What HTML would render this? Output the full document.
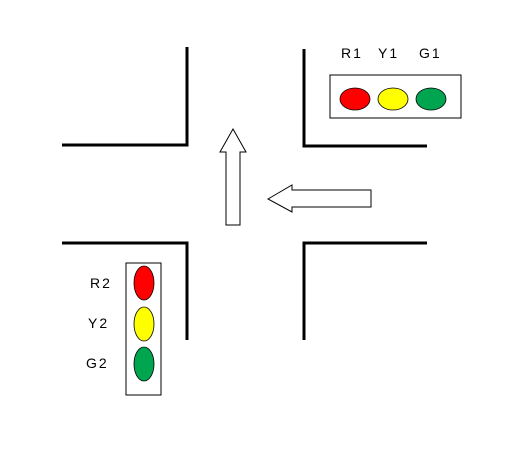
<!DOCTYPE html>
<html><head><meta charset="utf-8"><style>
html,body{margin:0;padding:0;background:#fff;width:515px;height:450px;overflow:hidden}
text{font-family:"Liberation Sans",Arial,sans-serif;font-size:14px;fill:#000;letter-spacing:2px}
</style></head><body>
<svg width="515" height="450" viewBox="0 0 515 450">
<g stroke="#000" stroke-width="3" fill="none">
<polyline points="62,145 187,145 187,47"/>
<polyline points="304,49 304,146 427,146"/>
<polyline points="62,243 187,243 187,340"/>
<polyline points="427,243 304,243 304,340"/>
</g>
<polygon points="233,129 246,152 240,152 240,225 226,225 226,152 220,152" fill="#fff" stroke="#000" stroke-width="1"/>
<polygon points="268,199 292,185 292,190 371,190 371,207 292,207 292,212" fill="#fff" stroke="#000" stroke-width="1"/>
<g>
<rect x="330" y="75" width="131" height="43" fill="#fff" stroke="#000" stroke-width="1"/>
<ellipse cx="355" cy="99" rx="15" ry="11" fill="#ff0000" stroke="#000" stroke-width="0.8"/>
<ellipse cx="393" cy="99" rx="15" ry="11" fill="#ffff00" stroke="#000" stroke-width="0.8"/>
<ellipse cx="431" cy="99" rx="15" ry="11" fill="#00a550" stroke="#000" stroke-width="0.8"/>
<text x="341" y="58">R1</text>
<text x="378" y="58">Y1</text>
<text x="419" y="58">G1</text>
</g>
<g>
<rect x="126" y="263" width="35" height="132" fill="#fff" stroke="#000" stroke-width="1"/>
<ellipse cx="144" cy="283" rx="10" ry="17" fill="#ff0000" stroke="#000" stroke-width="0.8"/>
<ellipse cx="144" cy="324" rx="10" ry="17" fill="#ffff00" stroke="#000" stroke-width="0.8"/>
<ellipse cx="144" cy="364" rx="10" ry="17" fill="#00a550" stroke="#000" stroke-width="0.8"/>
<text x="90" y="288">R2</text>
<text x="88" y="328">Y2</text>
<text x="86" y="368">G2</text>
</g>
</svg>
</body></html>
